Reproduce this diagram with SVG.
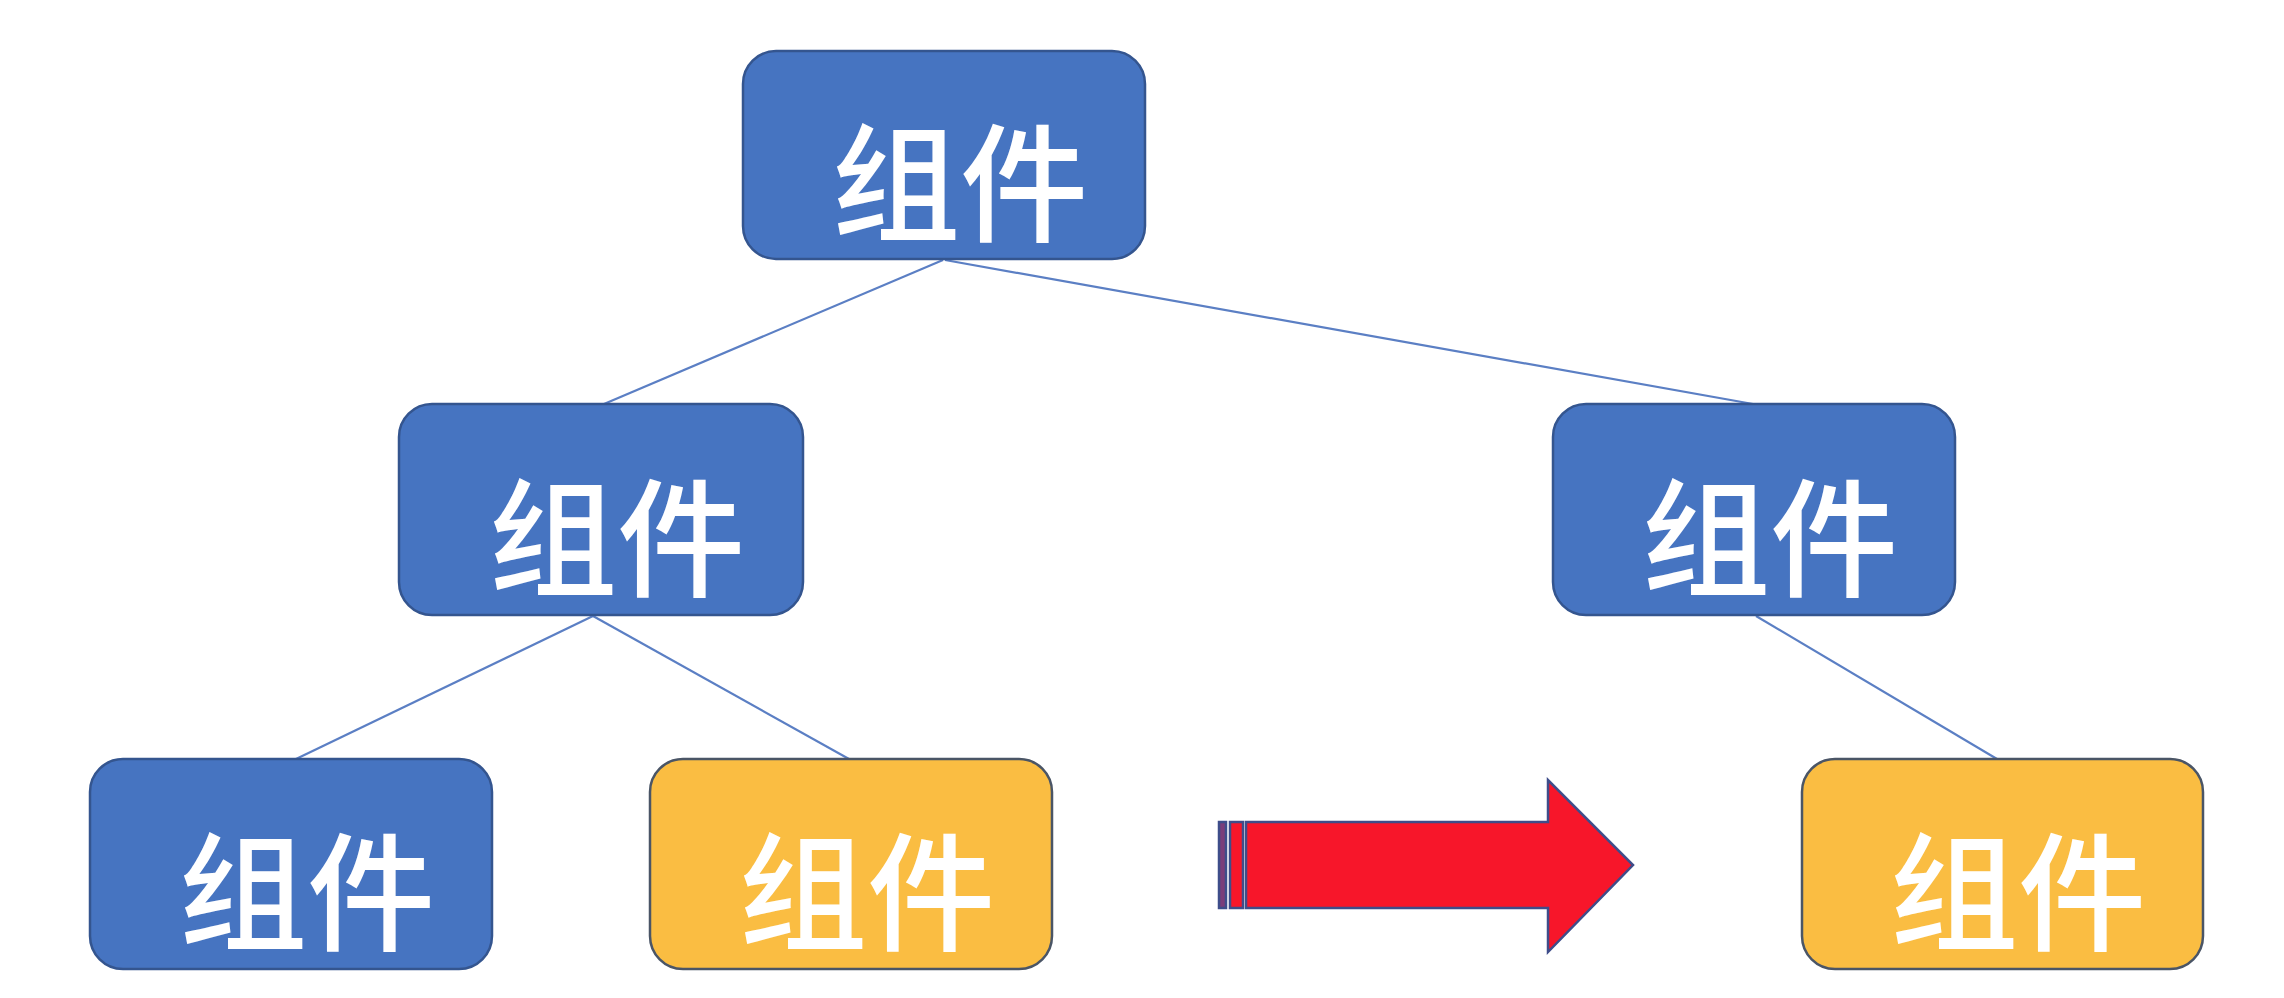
<svg xmlns="http://www.w3.org/2000/svg" width="2284" height="998" viewBox="0 0 2284 998">
<style>
.box{stroke:#34558f;stroke-width:2.5}
.blue{fill:#4674c1}
.yellow{fill:#fabd42;stroke:#4a5566}
.lbl{font-family:"Noto Sans CJK SC","Noto Sans",sans-serif;font-size:128px;font-weight:500;fill:#ffffff;text-anchor:middle}
.conn line{stroke:#5b7fc4;stroke-width:2.2}
.arrow{fill:#f7162a;stroke:#3e4d8a;stroke-width:2.5}
</style>
<rect width="2284" height="998" fill="#ffffff"/>
<g id="connectors" class="conn">
<line x1="943" y1="260" x2="604" y2="404"/>
<line x1="945" y1="260" x2="1753" y2="404"/>
<line x1="593" y1="616" x2="296" y2="759"/>
<line x1="593" y1="616" x2="849" y2="759"/>
<line x1="1756" y1="616" x2="1997" y2="759"/>
</g>
<g id="node-top"><rect class="box blue" x="743" y="51" width="402" height="208" rx="33"/><text class="lbl" x="960" y="232">组件</text></g>
<g id="node-mid-left"><rect class="box blue" x="399" y="404" width="404" height="211" rx="33"/><text class="lbl" x="617" y="587">组件</text></g>
<g id="node-mid-right"><rect class="box blue" x="1553" y="404" width="402" height="211" rx="33"/><text class="lbl" x="1770" y="587">组件</text></g>
<g id="node-bottom-left"><rect class="box blue" x="90" y="759" width="402" height="210" rx="33"/><text class="lbl" x="307" y="941">组件</text></g>
<g id="node-bottom-mid"><rect class="box yellow" x="650" y="759" width="402" height="210" rx="33"/><text class="lbl" x="867" y="941">组件</text></g>
<g id="node-bottom-right"><rect class="box yellow" x="1802" y="759" width="401" height="210" rx="33"/><text class="lbl" x="2018" y="941">组件</text></g>
<g id="arrow">
<rect class="arrow" x="1219" y="822" width="7" height="86" style="fill:#7a3d7a"/>
<rect class="arrow" x="1230" y="822" width="13" height="86"/>
<polygon class="arrow" points="1246,822 1548,822 1548,780 1633,865 1548,952 1548,908 1246,908"/>
</g>
</svg>
